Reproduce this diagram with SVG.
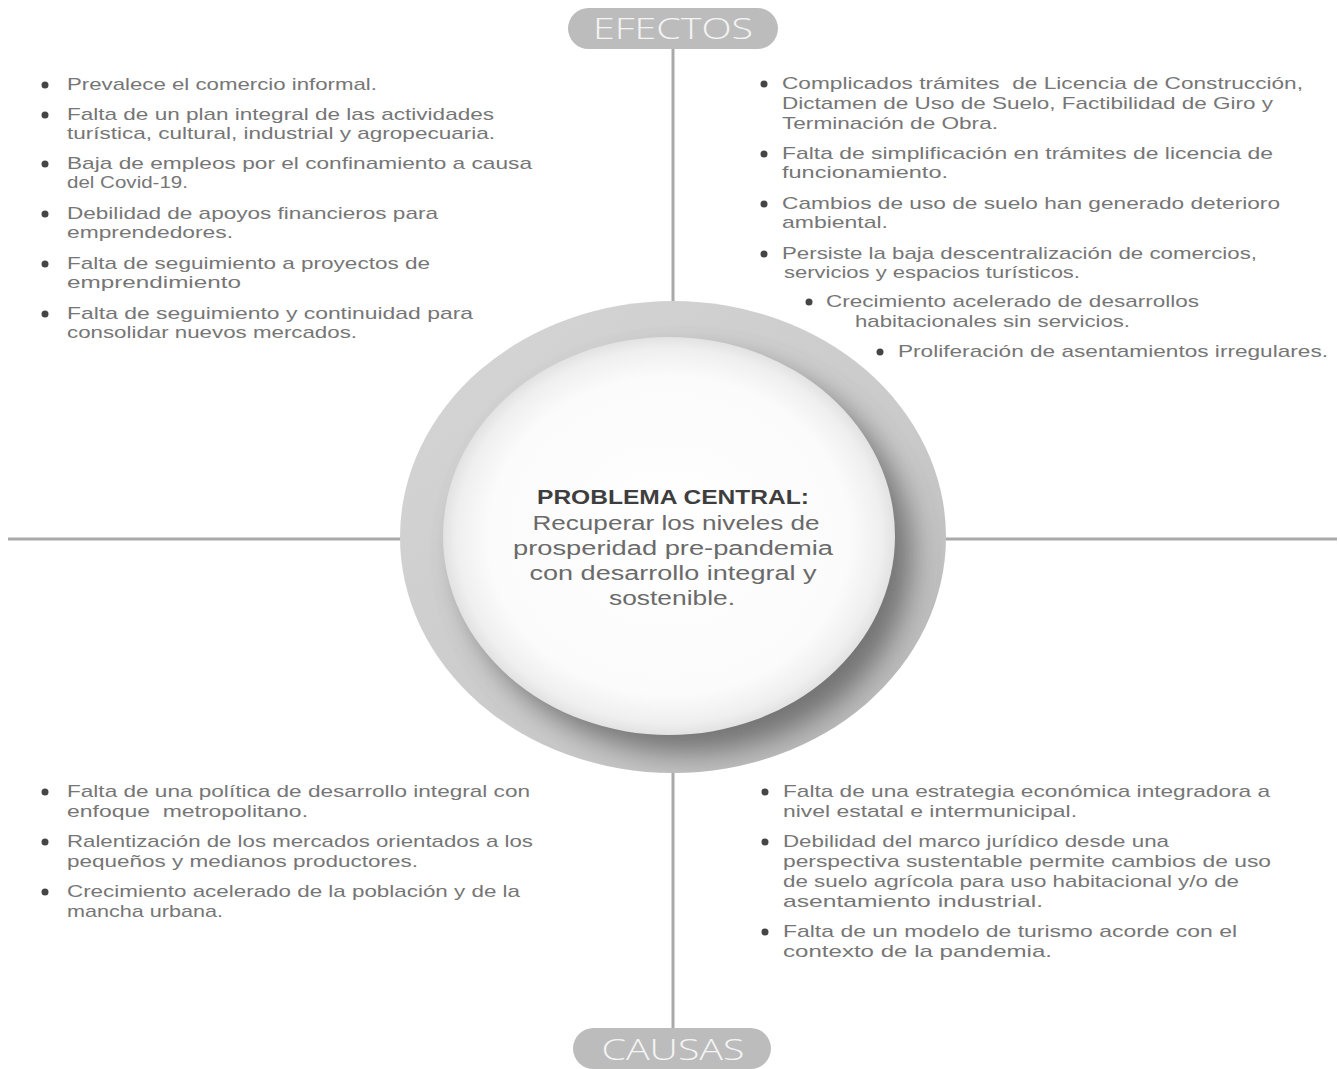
<svg xmlns="http://www.w3.org/2000/svg" width="1340" height="1069" viewBox="0 0 1340 1069">
<style>
.t{font-family:"Liberation Sans",Arial,sans-serif;font-size:17px;fill:#767676}
.c{font-family:"Liberation Sans",Arial,sans-serif;font-size:20px;fill:#6a6a6a;text-anchor:middle}
.cb{font-weight:bold;fill:#3e3e3e}
.pill{fill:#bcbcbc}
.pt{font-family:"Open Sans","Noto Sans","Liberation Sans",sans-serif;font-size:29px;font-weight:300;fill:#f4f4f4;text-anchor:middle}
.b{fill:#454545}
.ln{stroke:#a9a9a9;stroke-width:3;fill:none}
</style>
<defs>
<linearGradient id="ring" x1="0" y1="0" x2="1" y2="1">
<stop offset="0" stop-color="#d6d6d6"/>
<stop offset="0.6" stop-color="#cacaca"/>
<stop offset="1" stop-color="#b4b4b4"/>
</linearGradient>
<radialGradient id="disc" cx="0.5" cy="0.5" r="0.5">
<stop offset="0" stop-color="#ffffff"/>
<stop offset="0.8" stop-color="#fbfbfb"/>
<stop offset="0.94" stop-color="#efefef"/>
<stop offset="1" stop-color="#e2e2e2"/>
</radialGradient>
<filter id="blur" x="-20%" y="-20%" width="140%" height="140%">
<feGaussianBlur stdDeviation="14"/>
</filter>
<clipPath id="ringClip"><ellipse cx="673" cy="537" rx="273" ry="236"/></clipPath>
</defs>
<rect width="1340" height="1069" fill="#ffffff"/>

<g id="connectors">
<line class="ln" x1="8" y1="539" x2="402" y2="539"/>
<line class="ln" x1="944" y1="539" x2="1337" y2="539"/>
<line class="ln" x1="673" y1="48" x2="673" y2="304"/>
<line class="ln" x1="673" y1="770" x2="673" y2="1030"/>
</g>

<g id="node-efectos">
<rect class="pill" x="568" y="8" width="210" height="41" rx="20.5"/>
<text class="pt" x="673" y="39" textLength="160" lengthAdjust="spacingAndGlyphs">EFECTOS</text>
</g>

<g id="node-causas">
<rect class="pill" x="573" y="1028" width="198" height="41" rx="20.5"/>
<text class="pt" x="673" y="1060" textLength="143" lengthAdjust="spacingAndGlyphs">CAUSAS</text>
</g>

<g id="node-center">
<ellipse cx="673" cy="537" rx="273" ry="236" fill="url(#ring)"/>
<g clip-path="url(#ringClip)">
<ellipse cx="686" cy="554" rx="226" ry="199" fill="#5a5a5a" opacity="0.75" filter="url(#blur)"/>
</g>
<ellipse cx="669" cy="536" rx="226" ry="199" fill="url(#disc)"/>
<text class="c cb" x="673" y="504" textLength="272" lengthAdjust="spacingAndGlyphs">PROBLEMA CENTRAL:</text>
<text class="c" x="676" y="530" textLength="287" lengthAdjust="spacingAndGlyphs">Recuperar los niveles de</text>
<text class="c" x="673" y="555" textLength="320" lengthAdjust="spacingAndGlyphs">prosperidad pre-pandemia</text>
<text class="c" x="673" y="580" textLength="287" lengthAdjust="spacingAndGlyphs">con desarrollo integral y</text>
<text class="c" x="672" y="605" textLength="126" lengthAdjust="spacingAndGlyphs">sostenible.</text>
</g>

<g id="node-efectos-izq">
<circle class="b" cx="45" cy="85" r="3.5"/>
<circle class="b" cx="45" cy="115" r="3.5"/>
<circle class="b" cx="45" cy="164" r="3.5"/>
<circle class="b" cx="45" cy="214" r="3.5"/>
<circle class="b" cx="45" cy="264" r="3.5"/>
<circle class="b" cx="45" cy="314" r="3.5"/>
<text class="t" x="67" y="90" textLength="310" lengthAdjust="spacingAndGlyphs">Prevalece el comercio informal.</text>
<text class="t" x="67" y="120" textLength="427" lengthAdjust="spacingAndGlyphs">Falta de un plan integral de las actividades</text>
<text class="t" x="67" y="139" textLength="428" lengthAdjust="spacingAndGlyphs">turística, cultural, industrial y agropecuaria.</text>
<text class="t" x="67" y="169" textLength="465" lengthAdjust="spacingAndGlyphs">Baja de empleos por el confinamiento a causa</text>
<text class="t" x="67" y="188" textLength="121" lengthAdjust="spacingAndGlyphs">del Covid-19.</text>
<text class="t" x="67" y="219" textLength="371" lengthAdjust="spacingAndGlyphs">Debilidad de apoyos financieros para</text>
<text class="t" x="67" y="238" textLength="166" lengthAdjust="spacingAndGlyphs">emprendedores.</text>
<text class="t" x="67" y="269" textLength="363" lengthAdjust="spacingAndGlyphs">Falta de seguimiento a proyectos de</text>
<text class="t" x="67" y="288" textLength="174" lengthAdjust="spacingAndGlyphs">emprendimiento</text>
<text class="t" x="67" y="319" textLength="406" lengthAdjust="spacingAndGlyphs">Falta de seguimiento y continuidad para</text>
<text class="t" x="67" y="338" textLength="290" lengthAdjust="spacingAndGlyphs">consolidar nuevos mercados.</text>
</g>

<g id="node-efectos-der">
<circle class="b" cx="764" cy="84" r="3.5"/>
<circle class="b" cx="764" cy="154" r="3.5"/>
<circle class="b" cx="764" cy="204" r="3.5"/>
<circle class="b" cx="764" cy="254" r="3.5"/>
<circle class="b" cx="809" cy="302" r="3.5"/>
<circle class="b" cx="880" cy="352" r="3.5"/>
<text class="t" x="782" y="89" textLength="521" lengthAdjust="spacingAndGlyphs" xml:space="preserve">Complicados trámites  de Licencia de Construcción,</text>
<text class="t" x="782" y="109" textLength="491" lengthAdjust="spacingAndGlyphs">Dictamen de Uso de Suelo, Factibilidad de Giro y</text>
<text class="t" x="782" y="129" textLength="216" lengthAdjust="spacingAndGlyphs">Terminación de Obra.</text>
<text class="t" x="782" y="159" textLength="491" lengthAdjust="spacingAndGlyphs">Falta de simplificación en trámites de licencia de</text>
<text class="t" x="782" y="178" textLength="166" lengthAdjust="spacingAndGlyphs">funcionamiento.</text>
<text class="t" x="782" y="209" textLength="498" lengthAdjust="spacingAndGlyphs">Cambios de uso de suelo han generado deterioro</text>
<text class="t" x="782" y="228" textLength="106" lengthAdjust="spacingAndGlyphs">ambiental.</text>
<text class="t" x="782" y="259" textLength="475" lengthAdjust="spacingAndGlyphs">Persiste la baja descentralización de comercios,</text>
<text class="t" x="784" y="278" textLength="296" lengthAdjust="spacingAndGlyphs">servicios y espacios turísticos.</text>
<text class="t" x="826" y="307" textLength="373" lengthAdjust="spacingAndGlyphs">Crecimiento acelerado de desarrollos</text>
<text class="t" x="855" y="327" textLength="275" lengthAdjust="spacingAndGlyphs">habitacionales sin servicios.</text>
<text class="t" x="898" y="357" textLength="430" lengthAdjust="spacingAndGlyphs">Proliferación de asentamientos irregulares.</text>
</g>

<g id="node-causas-izq">
<circle class="b" cx="45" cy="792" r="3.5"/>
<circle class="b" cx="45" cy="842" r="3.5"/>
<circle class="b" cx="45" cy="892" r="3.5"/>
<text class="t" x="67" y="797" textLength="463" lengthAdjust="spacingAndGlyphs">Falta de una política de desarrollo integral con</text>
<text class="t" x="67" y="817" textLength="241" lengthAdjust="spacingAndGlyphs" xml:space="preserve">enfoque  metropolitano.</text>
<text class="t" x="67" y="847" textLength="466" lengthAdjust="spacingAndGlyphs">Ralentización de los mercados orientados a los</text>
<text class="t" x="67" y="867" textLength="351" lengthAdjust="spacingAndGlyphs">pequeños y medianos productores.</text>
<text class="t" x="67" y="897" textLength="453" lengthAdjust="spacingAndGlyphs">Crecimiento acelerado de la población y de la</text>
<text class="t" x="67" y="917" textLength="156" lengthAdjust="spacingAndGlyphs">mancha urbana.</text>
</g>

<g id="node-causas-der">
<circle class="b" cx="765" cy="792" r="3.5"/>
<circle class="b" cx="765" cy="842" r="3.5"/>
<circle class="b" cx="765" cy="932" r="3.5"/>
<text class="t" x="783" y="797" textLength="487" lengthAdjust="spacingAndGlyphs">Falta de una estrategia económica integradora a</text>
<text class="t" x="783" y="817" textLength="294" lengthAdjust="spacingAndGlyphs">nivel estatal e intermunicipal.</text>
<text class="t" x="783" y="847" textLength="386" lengthAdjust="spacingAndGlyphs">Debilidad del marco jurídico desde una</text>
<text class="t" x="783" y="867" textLength="488" lengthAdjust="spacingAndGlyphs">perspectiva sustentable permite cambios de uso</text>
<text class="t" x="783" y="887" textLength="456" lengthAdjust="spacingAndGlyphs">de suelo agrícola para uso habitacional y/o de</text>
<text class="t" x="783" y="907" textLength="260" lengthAdjust="spacingAndGlyphs">asentamiento industrial.</text>
<text class="t" x="783" y="937" textLength="454" lengthAdjust="spacingAndGlyphs">Falta de un modelo de turismo acorde con el</text>
<text class="t" x="783" y="957" textLength="269" lengthAdjust="spacingAndGlyphs">contexto de la pandemia.</text>
</g>
</svg>
